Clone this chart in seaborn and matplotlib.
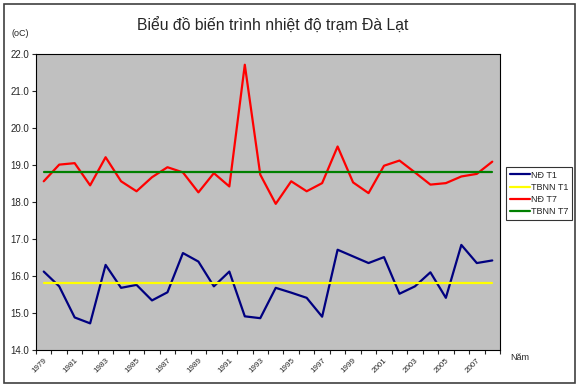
import numpy as np
import pandas as pd
import seaborn as sns
import matplotlib
matplotlib.use("Agg")
import matplotlib.pyplot as plt
import matplotlib.transforms as mtransforms
from matplotlib.patches import Rectangle

# Data (Da Lat station, 1979-2008)
years = list(range(1979, 2009))
nd_t1 = [16.12, 15.72, 14.88, 14.72, 16.30, 15.68, 15.76, 15.34, 15.56, 16.62,
         16.39, 15.72, 16.12, 14.91, 14.86, 15.68, 15.55, 15.41, 14.90, 16.71,
         16.53, 16.35, 16.51, 15.52, 15.72, 16.10, 15.41, 16.84, 16.35, 16.42]
nd_t7 = [18.56, 19.01, 19.05, 18.45, 19.21, 18.56, 18.29, 18.67, 18.94, 18.80,
         18.26, 18.78, 18.42, 21.71, 18.74, 17.95, 18.56, 18.29, 18.51, 19.50,
         18.53, 18.24, 18.98, 19.12, 18.80, 18.47, 18.51, 18.69, 18.76, 19.09]
tbnn_t1 = 15.8
tbnn_t7 = 18.8

series_names = ["NĐ T1", "TBNN T1", "NĐ T7", "TBNN T7"]
series_colors = ["#000080", "#FFFF00", "#FF0000", "#008000"]

# Build long-form table for seaborn
idx = np.arange(len(years))
df = pd.concat([
    pd.DataFrame({"idx": idx, "temp": nd_t1, "series": "NĐ T1"}),
    pd.DataFrame({"idx": idx, "temp": [tbnn_t1] * len(years), "series": "TBNN T1"}),
    pd.DataFrame({"idx": idx, "temp": nd_t7, "series": "NĐ T7"}),
    pd.DataFrame({"idx": idx, "temp": [tbnn_t7] * len(years), "series": "TBNN T7"}),
])

sns.set_style("white")
plt.rcParams["font.family"] = ["Liberation Sans", "DejaVu Sans"]

fig = plt.figure(figsize=(5.8, 3.91), dpi=100)
ax = fig.add_axes([36 / 580, 41 / 391, 464 / 580, 296 / 391])
ax.set_facecolor("#C0C0C0")

sns.lineplot(data=df, x="idx", y="temp", hue="series", hue_order=series_names,
             palette=series_colors, linewidth=1.6, ax=ax)

# Axes limits and ticks
ax.set_xlim(-0.5, len(years) - 0.5)
ax.set_ylim(14, 22)
ax.set_yticks(np.arange(14, 22.1, 1))
ax.set_yticklabels([f"{v:.1f}" for v in np.arange(14, 22.1, 1)], fontsize=7)
ax.set_xticks(np.arange(-0.5, len(years), 1))
ax.set_xticklabels([])
ax.set_xticks(idx[::2], minor=True)
ax.set_xticklabels([str(y) for y in years[::2]], minor=True, rotation=45,
                   ha="right", va="top", fontsize=5.8,
                   rotation_mode="anchor")
# nudge rotated year labels a little left, like the original
shift = mtransforms.ScaledTranslation(-5 / 100, 0, fig.dpi_scale_trans)
for lbl in ax.get_xticklabels(minor=True):
    lbl.set_transform(lbl.get_transform() + shift)
ax.tick_params(axis="x", which="major", length=3, width=0.8, direction="out", bottom=True)
ax.tick_params(axis="x", which="minor", length=0, pad=5)
ax.tick_params(axis="y", length=3, width=0.8, direction="out", left=True, pad=2)
ax.set_xlabel("")
ax.set_ylabel("")
for s in ax.spines.values():
    s.set_color("black")
    s.set_linewidth(0.8)

# Legend
leg = ax.legend(loc="upper left", bbox_to_anchor=(506 / 580, 1 - 167 / 391),
                bbox_transform=fig.transFigure, fontsize=6.5, frameon=True,
                fancybox=False, handlelength=2.3, handletextpad=0.1,
                borderpad=0.4, labelspacing=0.35, borderaxespad=0)
leg.get_frame().set_edgecolor("black")
leg.get_frame().set_linewidth(0.8)

# Texts
fig.text(273 / 580, 1 - 26 / 391, "Biểu đồ biến trình nhiệt độ trạm Đà Lạt",
         ha="center", va="center", fontsize=11.3)
fig.text(12 / 580, 1 - 33 / 391, "(oC)", ha="left", va="center", fontsize=6.5)
fig.text(510 / 580, 1 - 357 / 391, "Năm", ha="left", va="center", fontsize=6.5)

# Chart area border
fig.patches.append(Rectangle((4 / 580, 8 / 391), 571 / 580, 379 / 391,
                             transform=fig.transFigure, fill=False,
                             edgecolor="#404040", linewidth=1.2))

fig.savefig("out.png", dpi=100)
